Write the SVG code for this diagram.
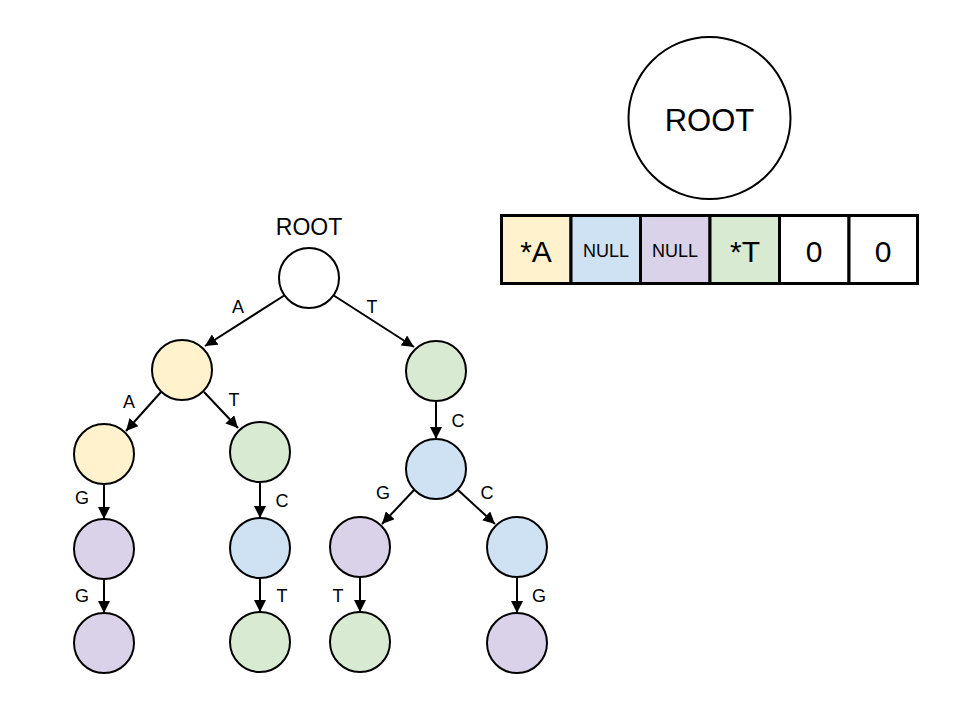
<svg xmlns="http://www.w3.org/2000/svg" width="960" height="720" viewBox="0 0 960 720">
<style>
text{font-family:"Liberation Sans",Arial,sans-serif;fill:#000;text-anchor:middle}
.n{stroke:#000;stroke-width:2}
.y{fill:#fff2cc}.b{fill:#cfe2f3}.p{fill:#d9d2e9}.g{fill:#d9ead3}.w{fill:#fff}
.e{stroke:#000;stroke-width:2;fill:none;marker-end:url(#ah)}
.l{font-size:18px}
.c{stroke:#000;stroke-width:3}
.big{font-size:30px}
.sm{font-size:18px}
</style>
<defs>
<marker id="ah" markerUnits="userSpaceOnUse" markerWidth="14" markerHeight="12" refX="12" refY="6" orient="auto">
<path d="M0,0 L12,6 L0,12 z" fill="#000"/>
</marker>
</defs>
<rect width="960" height="720" fill="#fff"/>
<g id="connectors">
<line class="e" x1="285" y1="295" x2="205" y2="346"/>
<line class="e" x1="333" y1="295" x2="414" y2="347"/>
<line class="e" x1="161" y1="392" x2="126" y2="431"/>
<line class="e" x1="204" y1="392" x2="238" y2="428"/>
<line class="e" x1="436" y1="401" x2="436" y2="439"/>
<line class="e" x1="104" y1="484" x2="104" y2="519"/>
<line class="e" x1="260" y1="482" x2="260" y2="518"/>
<line class="e" x1="414" y1="490" x2="382" y2="524"/>
<line class="e" x1="458" y1="490" x2="495" y2="524"/>
<line class="e" x1="104" y1="579" x2="104" y2="613"/>
<line class="e" x1="260" y1="578" x2="260" y2="612"/>
<line class="e" x1="360" y1="577" x2="360" y2="612"/>
<line class="e" x1="517" y1="577" x2="517" y2="613"/>
<text class="l" x="238" y="313">A</text>
<text class="l" x="372" y="313">T</text>
<text class="l" x="129" y="408">A</text>
<text class="l" x="234" y="406">T</text>
<text class="l" x="458" y="427">C</text>
<text class="l" x="82" y="504">G</text>
<text class="l" x="282" y="507">C</text>
<text class="l" x="383" y="499">G</text>
<text class="l" x="487" y="499">C</text>
<text class="l" x="82" y="602">G</text>
<text class="l" x="282" y="602">T</text>
<text class="l" x="338" y="602">T</text>
<text class="l" x="539" y="602">G</text>
</g>
<g id="root">
<text x="309" y="235" style="font-size:23px">ROOT</text>
<circle class="n w" cx="309" cy="278" r="30"/>
</g>
<g id="nA"><circle class="n y" cx="182" cy="370" r="30"/></g>
<g id="nT"><circle class="n g" cx="436" cy="371" r="30"/></g>
<g id="nAA"><circle class="n y" cx="104" cy="454" r="30"/></g>
<g id="nAT"><circle class="n g" cx="260" cy="452" r="30"/></g>
<g id="nTC"><circle class="n b" cx="436" cy="469" r="30"/></g>
<g id="nAAG"><circle class="n p" cx="104" cy="549" r="30"/></g>
<g id="nATC"><circle class="n b" cx="260" cy="548" r="30"/></g>
<g id="nTCG"><circle class="n p" cx="360" cy="547" r="30"/></g>
<g id="nTCC"><circle class="n b" cx="517" cy="547" r="30"/></g>
<g id="nAAGG"><circle class="n p" cx="104" cy="643" r="30"/></g>
<g id="nATCT"><circle class="n g" cx="260" cy="642" r="30"/></g>
<g id="nTCGT"><circle class="n g" cx="360" cy="642" r="30"/></g>
<g id="nTCCG"><circle class="n p" cx="517" cy="643" r="30"/></g>
<g id="bigroot">
<circle class="n w" cx="709.5" cy="118" r="81"/>
<text x="709.5" y="131" style="font-size:31px">ROOT</text>
</g>
<g id="array">
<rect class="c y" x="501.5" y="215.5" width="69.5" height="68"/>
<rect class="c b" x="571" y="215.5" width="69.5" height="68"/>
<rect class="c p" x="640.5" y="215.5" width="69.5" height="68"/>
<rect class="c g" x="710" y="215.5" width="69.5" height="68"/>
<rect class="c w" x="779.5" y="215.5" width="69.5" height="68"/>
<rect class="c w" x="849" y="215.5" width="68.5" height="68"/>
<text class="big" x="536" y="262">*A</text>
<text class="sm" x="606" y="257">NULL</text>
<text class="sm" x="675" y="257">NULL</text>
<text class="big" x="745" y="262">*T</text>
<text class="big" x="814" y="262">0</text>
<text class="big" x="883" y="262">0</text>
</g>
</svg>
